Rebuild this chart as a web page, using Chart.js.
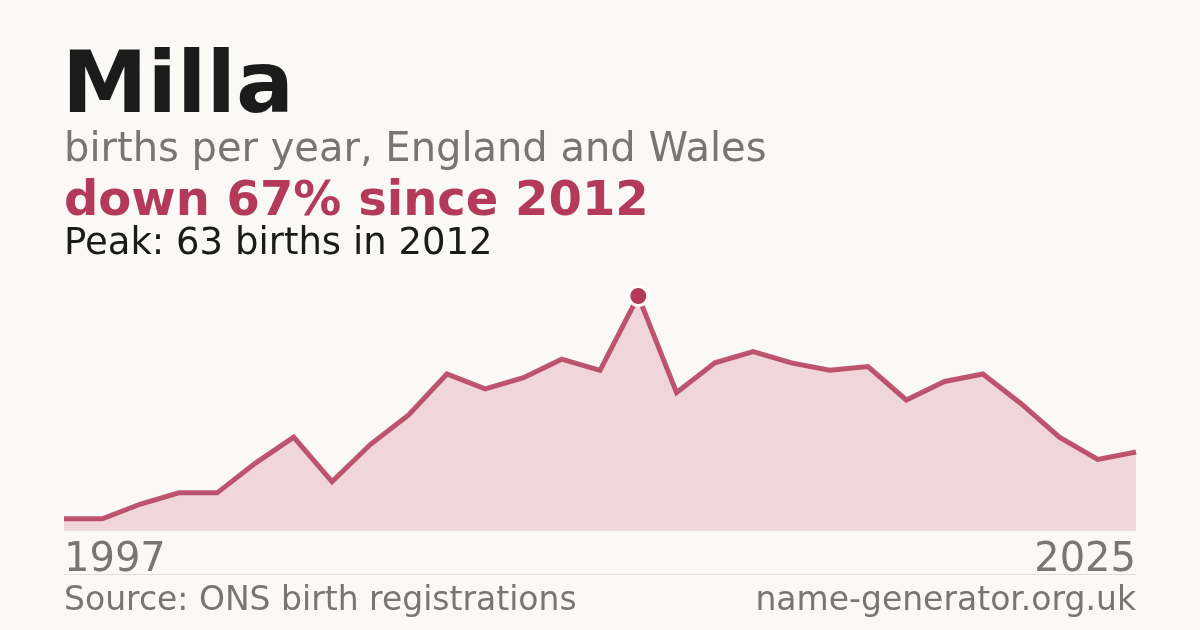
<!DOCTYPE html>
<html>
<head>
<meta charset="utf-8">
<script src="https://cdn.jsdelivr.net/npm/chart.js@4.4.1/dist/chart.umd.min.js"></script>
<style>
  html, body { margin: 0; padding: 0; background: #faf9f5; }
  #wrap { position: relative; width: 1200px; height: 630px; }
</style>
</head>
<body>
<div id="wrap"><canvas id="chart" width="1200" height="630"></canvas></div>
<script>
// data
const years = ['1997','1998','1999','2000','2001','2002','2003','2004','2005','2006',
  '2007','2008','2009','2010','2011','2012','2013','2014','2015','2016',
  '2017','2018','2019','2020','2021','2022','2023','2024','2025'];
const births = [3, 3, 7, 10, 10, 18, 25, 13, 23, 31,
  42, 38, 41, 46, 43, 63, 37, 45, 48, 45,
  43, 44, 35, 40, 42, 34, 25, 19, 21];
const peakIndex = 15;
const axisYears = ['1997', '2025'];

const RED = '#b33a58';
const GREY = '#7a756e';
const INK = '#1b1b1b';
const FONT = '"DejaVu Sans", sans-serif';

// titles and footer drawn onto the canvas
const textPlugin = {
  id: 'texts',
  afterDraw(chart) {
    const c = chart.ctx;
    const area = chart.chartArea;
    c.save();
    c.textBaseline = 'alphabetic';
    c.textAlign = 'left';
    c.fillStyle = INK;
    c.font = 'bold 86px ' + FONT;
    c.fillText('Milla', 62, 112);
    c.fillStyle = GREY;
    c.font = '40px ' + FONT;
    c.fillText('births per year, England and Wales', 64, 161);
    c.fillStyle = RED;
    c.font = 'bold 48px ' + FONT;
    c.fillText('down 67% since 2012', 64, 215);
    c.fillStyle = INK;
    c.font = '37px ' + FONT;
    c.fillText('Peak: 63 births in 2012', 64, 254);

    // baseline + separator
    c.strokeStyle = '#e2ded8';
    c.lineWidth = 1;
    c.beginPath();
    c.moveTo(area.left, 530.5); c.lineTo(area.right, 530.5);
    c.moveTo(area.left, 574.5); c.lineTo(area.right, 574.5);
    c.stroke();

    c.fillStyle = GREY;
    c.font = '40px ' + FONT;
    c.fillText(axisYears[0], 64, 571);
    c.textAlign = 'right';
    c.fillText(axisYears[1], 1136, 571);
    c.font = '33px ' + FONT;
    c.textAlign = 'left';
    c.fillText('Source: ONS birth registrations', 64, 610);
    c.textAlign = 'right';
    c.fillText('name-generator.org.uk', 1136, 610);
    c.restore();
  }
};

const bgPlugin = {
  id: 'bg',
  beforeDraw(chart) {
    const c = chart.ctx;
    c.save();
    c.fillStyle = '#faf9f5';
    c.fillRect(0, 0, chart.width, chart.height);
    c.restore();
  }
};

new Chart(document.getElementById('chart').getContext('2d'), {
  type: 'line',
  data: {
    labels: years,
    datasets: [{
      data: births,
      borderColor: 'rgba(179,58,88,0.85)',
      borderWidth: 5,
      backgroundColor: '#f0d5db',
      fill: 'origin',
      tension: 0,
      clip: false,
      pointRadius: births.map((v, i) => i === peakIndex ? 9.5 : 0),
      pointBackgroundColor: RED,
      pointBorderColor: '#ffffff',
      pointBorderWidth: 3,
      pointHoverRadius: 0
    }]
  },
  options: {
    responsive: false,
    animation: false,
    devicePixelRatio: 1,
    layout: { padding: { left: 64, right: 64, top: 270, bottom: 100 } },
    plugins: { legend: { display: false }, tooltip: { enabled: false } },
    scales: {
      x: { display: false, offset: false },
      y: { display: false, min: 0, max: 70 }
    }
  },
  plugins: [bgPlugin, textPlugin]
});
</script>
</body>
</html>
